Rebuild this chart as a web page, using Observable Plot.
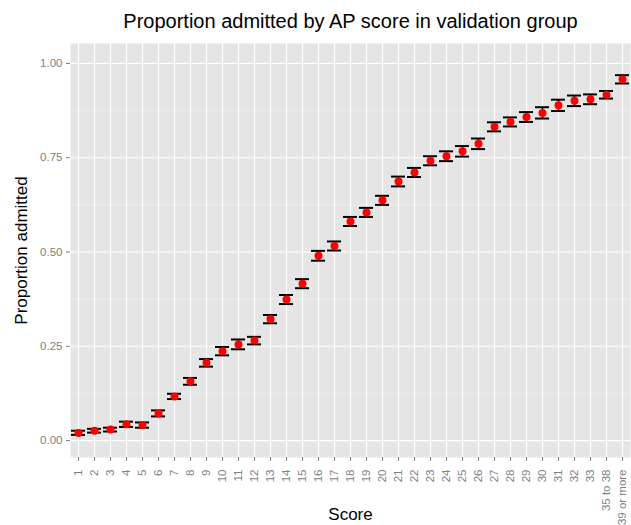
<!DOCTYPE html>
<html>
<head>
<meta charset="utf-8">
<script src="https://cdn.jsdelivr.net/npm/d3@7"></script>
<script src="https://cdn.jsdelivr.net/npm/@observablehq/plot@0.6"></script>
<style>
  body { margin: 0; background: #fff; font-family: "Liberation Sans", Arial, sans-serif; }
  #title { height: 40px; width: 631px; box-sizing: border-box; padding-left: 70px; text-align: center;
           font-size: 20px; line-height: 42px; color: #000; }
</style>
</head>
<body>
<div id="title">Proportion admitted by AP score in validation group</div>
<div id="chart"></div>
<script>
const categories = ["1","2","3","4","5","6","7","8","9","10","11","12","13","14","15","16","17","18","19","20",
  "21","22","23","24","25","26","27","28","29","30","31","32","33","35 to 38","39 or more"];
const proportion = [0.020,0.026,0.029,0.043,0.041,0.072,0.117,0.157,0.206,0.237,0.255,0.265,0.322,0.374,0.416,
  0.490,0.516,0.581,0.605,0.637,0.687,0.711,0.742,0.754,0.767,0.787,0.832,0.845,0.858,0.869,0.889,0.901,0.905,0.917,0.958];
const lower = [0.015,0.021,0.024,0.036,0.034,0.064,0.110,0.148,0.196,0.226,0.242,0.255,0.311,0.362,0.404,
  0.477,0.504,0.569,0.593,0.625,0.674,0.699,0.730,0.741,0.753,0.773,0.820,0.833,0.845,0.854,0.874,0.887,0.892,0.907,0.947];
const upper = [0.026,0.031,0.034,0.050,0.048,0.080,0.124,0.166,0.216,0.248,0.268,0.275,0.333,0.386,0.428,
  0.503,0.528,0.593,0.617,0.649,0.700,0.723,0.754,0.767,0.781,0.801,0.844,0.857,0.871,0.884,0.904,0.915,0.918,0.927,0.969];
const majorTicks = [0, 0.25, 0.5, 0.75, 1];
const minorTicks = [0.125, 0.375, 0.625, 0.875];

const data = categories.map((c, i) => ({score: c, p: proportion[i], lo: lower[i], hi: upper[i]}));

const grey = "#7F7F7F";
const plot = Plot.plot({
  width: 631,
  height: 485,
  marginTop: 3,
  marginBottom: 68,
  marginLeft: 70,
  marginRight: 1,
  style: {fontFamily: "'Liberation Sans', Arial, sans-serif", fontSize: "11.5px", background: "#fff"},
  x: {type: "band", domain: categories, padding: 0, label: null},
  y: {domain: [-0.045, 1.053], label: null},
  marks: [
    Plot.frame({fill: "#E5E5E5", stroke: null}),
    Plot.ruleY(minorTicks, {stroke: "#F2F2F2", strokeWidth: 0.6}),
    Plot.ruleY(majorTicks, {stroke: "#FFFFFF", strokeWidth: 1.2}),
    Plot.ruleX(categories, {x: d => d, stroke: "#FFFFFF", strokeWidth: 1.2}),
    Plot.ruleX(data, {x: "score", y1: "lo", y2: "hi", stroke: "#000", strokeWidth: 1.5}),
    Plot.tickY(data, {x: "score", y: "lo", stroke: "#000", strokeWidth: 2, insetLeft: 1, insetRight: 1}),
    Plot.tickY(data, {x: "score", y: "hi", stroke: "#000", strokeWidth: 2, insetLeft: 1, insetRight: 1}),
    Plot.dot(data, {x: "score", y: "p", r: 4, fill: "#FF0000", stroke: null}),
    Plot.axisY({ticks: majorTicks, tickFormat: d3.format(".2f"), tickSize: 4, tickPadding: 4, color: grey, label: null, fontSize: 11.5}),
    Plot.axisX({tickRotate: -90, tickSize: 4, tickPadding: 8, color: grey, label: null, fontSize: 11.5}),
    Plot.text(["Score"], {frameAnchor: "bottom", dy: 57, lineAnchor: "middle", textAnchor: "middle", fontSize: 17, fill: "#000", text: d => d}),
    Plot.text(["Proportion admitted"], {frameAnchor: "left", dx: -49, rotate: -90, textAnchor: "middle", lineAnchor: "middle", fontSize: 17, fill: "#000", text: d => d})
  ]
});
document.getElementById("chart").appendChild(plot);
</script>
</body>
</html>
